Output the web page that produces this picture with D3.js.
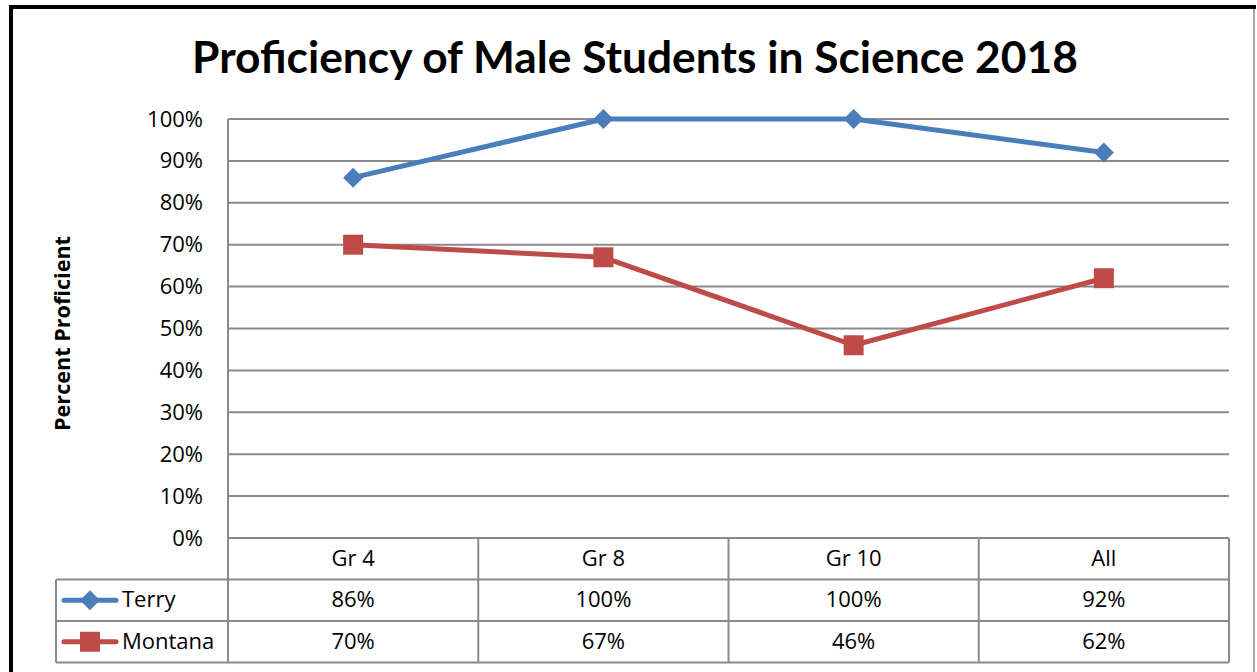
<!DOCTYPE html>
<html>
<head>
<meta charset="utf-8">
<script src="https://cdnjs.cloudflare.com/ajax/libs/d3/7.8.5/d3.min.js"></script>
<style>
  body { margin: 0; background: #fff; }
  svg text { font-family: "Open Sans", sans-serif; fill: #000; }
</style>
</head>
<body>
<div id="chart"></div>
<script>
const categories = ["Gr 4", "Gr 8", "Gr 10", "All"];
const terry = [86, 100, 100, 92];
const montana = [70, 67, 46, 62];
const yTicks = [0, 10, 20, 30, 40, 50, 60, 70, 80, 90, 100];
const seriesNames = ["Terry", "Montana"];

const width = 1257;
const height = 672;
const plot = { left: 228, right: 1229, top: 119, bottom: 538 };
const rowH = 41.5;
const fs = "22px";

const svg = d3.select("#chart").append("svg")
  .attr("width", width)
  .attr("height", height);

// outer border
svg.append("line").attr("x1", 1254).attr("x2", 1254).attr("y1", 7).attr("y2", height)
  .attr("stroke", "#8a8a8a").attr("stroke-width", 1.5);
svg.append("line").attr("x1", 11).attr("x2", 1256).attr("y1", 7).attr("y2", 7)
  .attr("stroke", "#000").attr("stroke-width", 4);
svg.append("line").attr("x1", 11).attr("x2", 11).attr("y1", 5).attr("y2", height)
  .attr("stroke", "#000").attr("stroke-width", 4);

// fit a text to a pixel width
function fit(sel, target) {
  const w = sel.node().getComputedTextLength();
  const size = parseFloat(sel.style("font-size"));
  sel.style("font-size", (size * target / w) + "px");
}

// title
const title = svg.append("text")
  .attr("x", 635).attr("y", 73)
  .attr("text-anchor", "middle")
  .style("font-family", "Lato, sans-serif")
  .style("font-weight", "bold")
  .style("font-size", "40px")
  .text("Proficiency of Male Students in Science 2018");
fit(title, 886);

const x = d3.scaleBand()
  .domain(categories)
  .range([plot.left, plot.right]);

const y = d3.scaleLinear()
  .domain([0, 100])
  .range([plot.bottom, plot.top]);

// gridlines
svg.append("g")
  .selectAll("line")
  .data(yTicks)
  .enter()
  .append("line")
  .attr("x1", plot.left).attr("x2", plot.right)
  .attr("y1", d => y(d)).attr("y2", d => y(d))
  .attr("stroke", "#8a8a8a")
  .attr("stroke-width", 2);

svg.append("line")
  .attr("x1", plot.left).attr("x2", plot.left)
  .attr("y1", plot.top).attr("y2", plot.bottom)
  .attr("stroke", "#8a8a8a").attr("stroke-width", 2);

// y axis labels
const yAxis = d3.axisLeft(y)
  .tickValues(yTicks)
  .tickFormat(d => d + "%")
  .tickSize(0)
  .tickPadding(25);

svg.append("g")
  .attr("transform", "translate(" + plot.left + ",0)")
  .call(yAxis)
  .call(g => g.select(".domain").remove())
  .selectAll("text")
  .style("font-size", fs)
  .style("font-family", "'Open Sans', sans-serif");

const ylab = svg.append("text")
  .attr("transform", "translate(70," + ((plot.top + plot.bottom) / 2 + 5) + ") rotate(-90)")
  .attr("text-anchor", "middle")
  .style("font-weight", "bold")
  .style("font-size", "20px")
  .text("Percent Proficient");
fit(ylab, 195);

// data table
const tableLeft = 56;
const rows = [plot.bottom, plot.bottom + rowH, plot.bottom + 2 * rowH, plot.bottom + 3 * rowH];
const tbl = svg.append("g").attr("stroke", "#8a8a8a").attr("stroke-width", 2);
rows.forEach((r, i) => {
  tbl.append("line")
    .attr("x1", i === 0 ? plot.left : tableLeft).attr("x2", plot.right)
    .attr("y1", r).attr("y2", r);
});
tbl.append("line").attr("x1", tableLeft).attr("x2", tableLeft)
  .attr("y1", rows[1]).attr("y2", rows[3]);
categories.forEach(c => {
  tbl.append("line").attr("x1", x(c)).attr("x2", x(c))
    .attr("y1", rows[0]).attr("y2", rows[3]);
});
tbl.append("line").attr("x1", plot.right).attr("x2", plot.right)
  .attr("y1", rows[0]).attr("y2", rows[3]);

svg.append("g")
  .selectAll("text")
  .data(categories)
  .enter()
  .append("text")
  .attr("x", d => x(d) + x.bandwidth() / 2)
  .attr("y", rows[0] + rowH / 2 + 7)
  .attr("text-anchor", "middle")
  .style("font-size", fs)
  .text(d => d);

const colors = ["#4a7ebb", "#be4b48"];
const allSeries = [terry, montana];

allSeries.forEach((vals, si) => {
  svg.append("g")
    .selectAll("text")
    .data(vals)
    .enter()
    .append("text")
    .attr("x", (d, i) => x(categories[i]) + x.bandwidth() / 2)
    .attr("y", rows[si + 1] + rowH / 2 + 7)
    .attr("text-anchor", "middle")
    .style("font-size", fs)
    .text(d => d + "%");
});

function marker(g, si, cx, cy) {
  if (si === 0) {
    g.append("path")
      .attr("d", "M" + cx + "," + (cy - 10) + "L" + (cx + 10) + "," + cy + "L" + cx + "," + (cy + 10) + "L" + (cx - 10) + "," + cy + "Z")
      .attr("fill", colors[si]);
  } else {
    g.append("rect")
      .attr("x", cx - 10).attr("y", cy - 10)
      .attr("width", 20).attr("height", 20)
      .attr("fill", colors[si]);
  }
}

// legend keys
seriesNames.forEach((name, si) => {
  const cy = rows[si + 1] + rowH / 2;
  const g = svg.append("g");
  g.append("line")
    .attr("x1", 64).attr("x2", 116)
    .attr("y1", cy).attr("y2", cy)
    .attr("stroke", colors[si]).attr("stroke-width", 5)
    .attr("stroke-linecap", "round");
  marker(g, si, 90, cy);
  g.append("text")
    .attr("x", 122).attr("y", cy + 7)
    .style("font-size", fs)
    .text(name);
});

// lines
const line = d3.line()
  .x((d, i) => x(categories[i]) + x.bandwidth() / 2)
  .y(d => y(d));

allSeries.forEach((vals, si) => {
  svg.append("path")
    .datum(vals)
    .attr("d", line)
    .attr("fill", "none")
    .attr("stroke", colors[si])
    .attr("stroke-width", 5)
    .attr("stroke-linejoin", "round");
  const g = svg.append("g");
  vals.forEach((v, i) => {
    marker(g, si, x(categories[i]) + x.bandwidth() / 2, y(v));
  });
});
</script>
</body>
</html>
